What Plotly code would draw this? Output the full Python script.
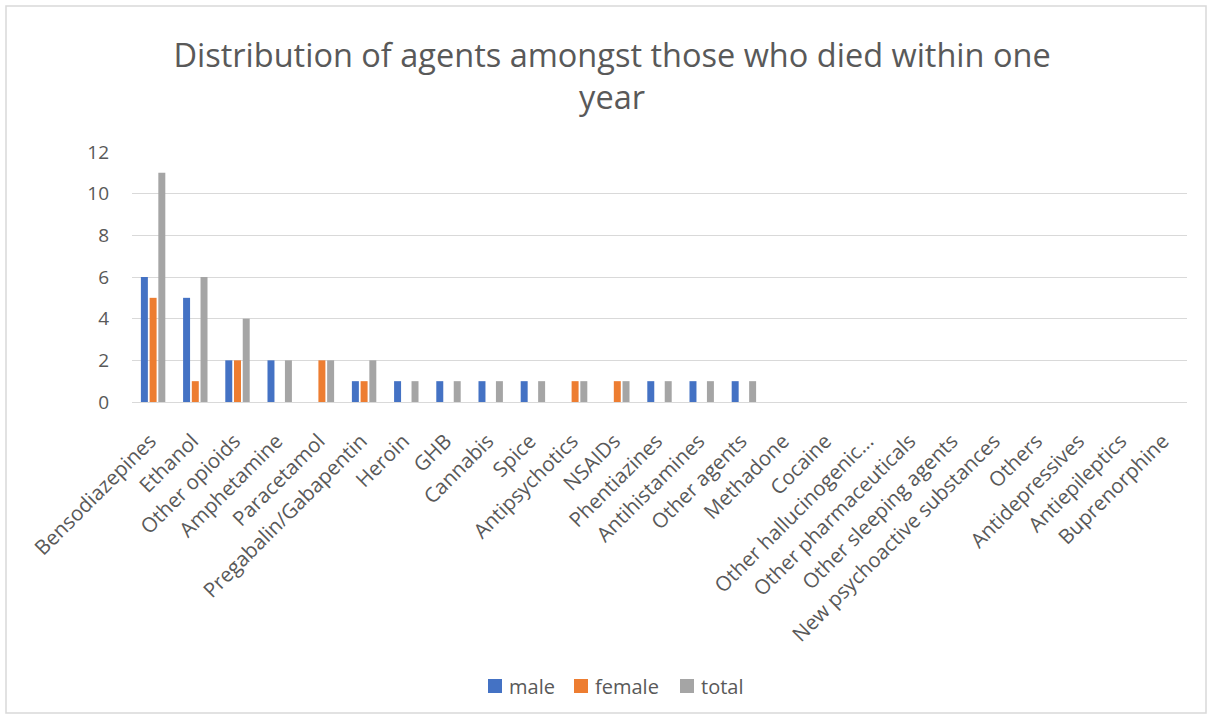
import plotly.graph_objects as go

agents = [
    "Bensodiazepines", "Ethanol", "Other opioids", "Amphetamine", "Paracetamol",
    "Pregabalin/Gabapentin", "Heroin", "GHB", "Cannabis", "Spice",
    "Antipsychotics", "NSAIDs", "Phentiazines", "Antihistamines", "Other agents",
    "Methadone", "Cocaine", "Other hallucinogenic...", "Other pharmaceuticals",
    "Other sleeping agents", "New psychoactive substances", "Others",
    "Antidepressives", "Antiepileptics", "Buprenorphine",
]
male = [6, 5, 2, 2, 0, 1, 1, 1, 1, 1, 0, 0, 1, 1, 1, 0, 0, 0, 0, 0, 0, 0, 0, 0, 0]
female = [5, 1, 2, 0, 2, 1, 0, 0, 0, 0, 1, 1, 0, 0, 0, 0, 0, 0, 0, 0, 0, 0, 0, 0, 0]
total = [11, 6, 4, 2, 2, 2, 1, 1, 1, 1, 1, 1, 1, 1, 1, 0, 0, 0, 0, 0, 0, 0, 0, 0, 0]

series_names = ["male", "female", "total"]
series_colors = ["#4472C4", "#ED7D31", "#A5A5A5"]

FONT = "Open Sans"
TXT = "#595959"

fig = go.Figure()
for name, vals, col in zip(series_names, [male, female, total], series_colors):
    fig.add_trace(go.Bar(name=name, x=agents, y=vals, marker_color=col,
                         marker_line_width=0, showlegend=False))

W, H = 1212, 719
L, R, T, B = 132, 25, 152, 317
pw, ph = W - L - R, H - T - B

def px_x(p):
    return (p - L) / pw

def px_y(p):
    return (H - B - p) / ph

shapes = [dict(type="rect", xref="paper", yref="paper",
               x0=px_x(6), x1=px_x(1206), y0=px_y(713), y1=px_y(6),
               line=dict(color="#D9D9D9", width=1.5), layer="below")]
annotations = []

# legend row along the bottom: colour key then series name
key_left = [488, 574, 680]
legend_y = 686
for name, col, kx in zip(series_names, series_colors, key_left):
    shapes.append(dict(type="rect", xref="paper", yref="paper",
                       x0=px_x(kx), x1=px_x(kx + 14),
                       y0=px_y(legend_y + 7), y1=px_y(legend_y - 7),
                       fillcolor=col, line=dict(width=0)))
    annotations.append(dict(text=name, xref="paper", yref="paper",
                            x=px_x(kx + 19), y=px_y(legend_y),
                            xanchor="left", yanchor="middle", showarrow=False,
                            font=dict(family=FONT, size=20, color=TXT)))

fig.update_layout(
    width=W, height=H,
    margin=dict(l=L, r=R, t=T, b=B),
    paper_bgcolor="white", plot_bgcolor="white",
    barmode="group", bargap=0.38, bargroupgap=0.2,
    showlegend=False,
    title=dict(text="Distribution of agents amongst those who died within one<br>year",
               x=0.505, xanchor="center", y=1 - 67 / H, yanchor="middle",
               font=dict(family=FONT, size=32.5, color=TXT)),
    font=dict(family=FONT, color=TXT),
    xaxis=dict(tickangle=-45, tickfont=dict(size=20.5, color=TXT), showgrid=False,
               showline=True, linecolor="#D9D9D9", linewidth=1, ticks="",
               ticklabelstandoff=18, ticklabelshift=-3, automargin=False),
    yaxis=dict(range=[0, 12], dtick=2, tickfont=dict(size=19, color=TXT),
               showgrid=True, gridcolor="#D9D9D9", gridwidth=1, zeroline=False,
               showline=False, ticks="", ticklabelstandoff=22, automargin=False),
    shapes=shapes,
    annotations=annotations,
)

fig.write_html("out.html")
